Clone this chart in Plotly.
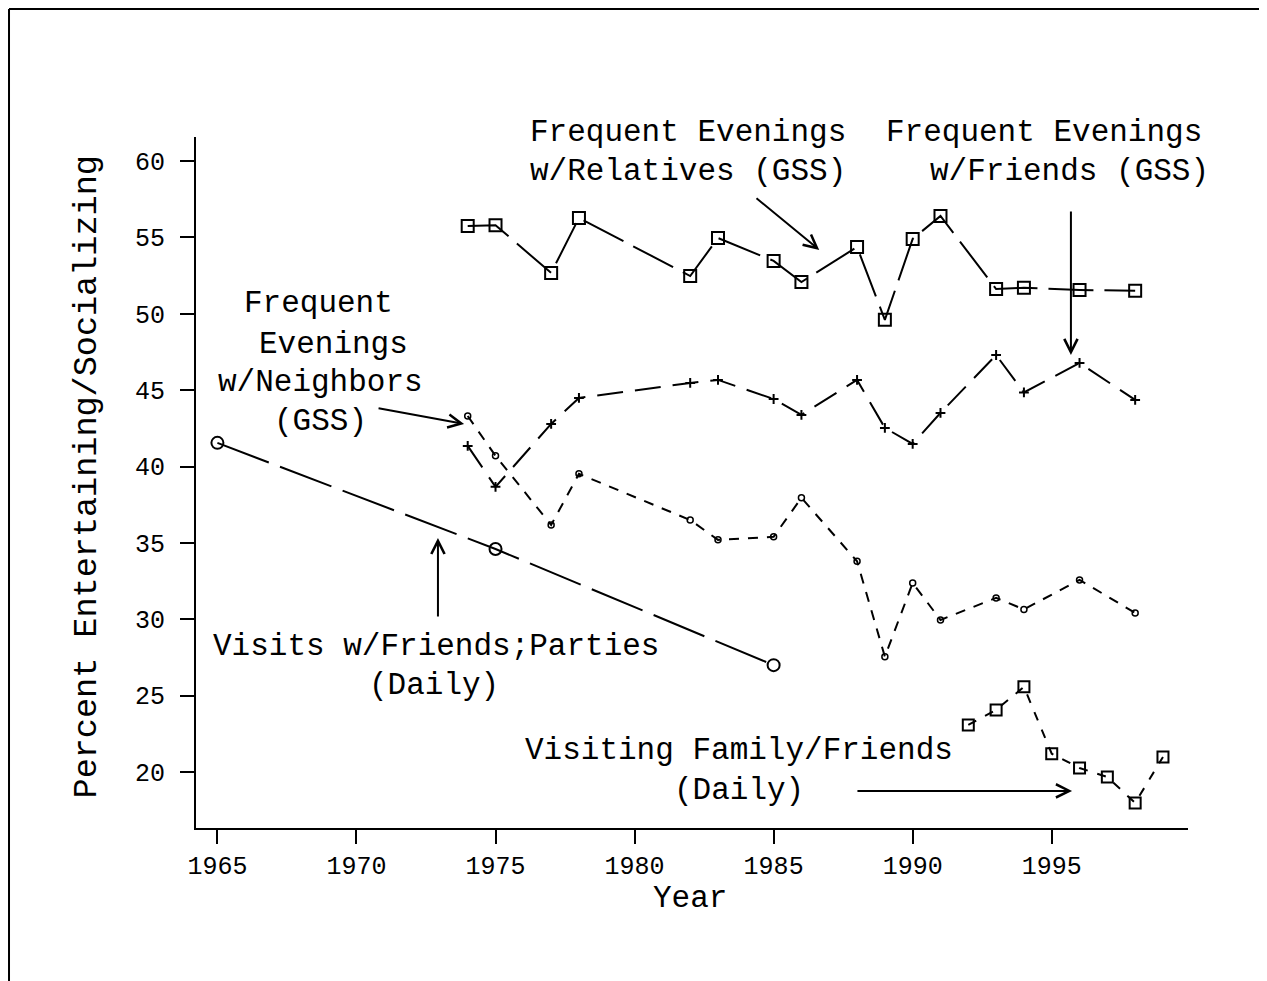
import plotly.graph_objects as go

# ---------------- data ----------------
rel_years = [1974, 1975, 1977, 1978, 1982, 1983, 1985, 1986, 1988, 1989, 1990, 1991, 1993, 1994, 1996, 1998]
rel_vals = [55.75, 55.8, 52.67, 56.27, 52.47, 54.96, 53.46, 52.08, 54.37, 49.6, 54.9, 56.4, 51.62, 51.7, 51.56, 51.5]

fr_years = [1974, 1975, 1977, 1978, 1982, 1983, 1985, 1986, 1988, 1989, 1990, 1991, 1993, 1994, 1996, 1998]
fr_vals = [41.35, 38.67, 42.79, 44.49, 45.47, 45.67, 44.42, 43.38, 45.67, 42.53, 41.48, 43.51, 47.3, 44.85, 46.78, 44.36]

nb_years = [1974, 1975, 1977, 1978, 1982, 1983, 1985, 1986, 1988, 1989, 1990, 1991, 1993, 1994, 1996, 1998]
nb_vals = [43.31, 40.7, 36.18, 39.52, 36.5, 35.2, 35.4, 37.95, 33.8, 27.55, 32.38, 29.96, 31.4, 30.65, 32.58, 30.42]

vis_years = [1965, 1975, 1985]
vis_vals = [41.55, 34.6, 27.0]

fam_years = [1992, 1993, 1994, 1995, 1996, 1997, 1998, 1999]
fam_vals = [23.09, 24.07, 25.58, 21.2, 20.27, 19.68, 17.98, 20.99]

x_ticks = [1965, 1970, 1975, 1980, 1985, 1990, 1995]
y_ticks = [20, 25, 30, 35, 40, 45, 50, 55, 60]

FONT = "Liberation Mono"
BLACK = "black"
TXT = 31

fig = go.Figure()

def add_series(xs, ys, dash, symbol, msize, mlw):
    fig.add_trace(go.Scatter(
        x=xs, y=ys, mode="lines+markers",
        line=dict(color=BLACK, width=2, dash=dash),
        marker=dict(symbol=symbol, size=msize, color=BLACK,
                    line=dict(color=BLACK, width=mlw)),
        showlegend=False, cliponaxis=False,
    ))

add_series(rel_years, rel_vals, "45px,11px", "square-open", 12, 2)
add_series(fr_years, fr_vals, "26px,12px", "cross-thin-open", 7, 2)
add_series(nb_years, nb_vals, "10px,9px", "circle-open", 6, 1.5)
add_series(vis_years, vis_vals, "55px,12px", "circle-open", 12, 2)
add_series(fam_years, fam_vals, "9px,10px", "square-open", 11, 2)

# ---------------- text labels ----------------
annotations = []
# labels above the plot area (x in data units, y in paper units)
top_labels = [
    ("Frequent Evenings", 1981.92, 1.0058),
    ("w/Relatives (GSS)", 1981.92, 0.9494),
    ("Frequent Evenings", 1994.71, 1.0058),
    ("w/Friends (GSS)", 1995.65, 0.9494),
]
for t, x, y in top_labels:
    annotations.append(dict(text=t, x=x, y=y, xref="x", yref="paper", showarrow=False,
                            xanchor="center", yanchor="middle",
                            font=dict(family=FONT, size=TXT, color=BLACK)))

labels = [
    ("Frequent", 1968.65, 50.64),
    ("Evenings", 1969.19, 48.02),
    ("w/Neighbors", 1968.72, 45.47),
    ("(GSS)", 1968.69, 42.92),
    ("Visits w/Friends;Parties", 1972.86, 28.19),
    ("(Daily)", 1972.79, 25.64),
    ("Visiting Family/Friends", 1983.76, 21.39),
    ("(Daily)", 1983.76, 18.77),
]
for t, x, y in labels:
    annotations.append(dict(text=t, x=x, y=y, xref="x", yref="y", showarrow=False,
                            xanchor="center", yanchor="middle",
                            font=dict(family=FONT, size=TXT, color=BLACK)))

arrows = [
    # (head_x, head_y, tail_x, tail_y)
    (1986.64, 54.18, 1984.33, 57.64),
    (1995.69, 47.30, 1995.69, 56.79),
    (1973.87, 42.79, 1970.74, 43.84),
    (1972.93, 35.33, 1972.93, 30.09),
    (1995.73, 18.77, 1987.96, 18.77),
]
for hx, hy, tx, ty in arrows:
    annotations.append(dict(text="", x=hx, y=hy, ax=tx, ay=ty, xref="x", yref="y",
                            axref="x", ayref="y", showarrow=True, arrowhead=5,
                            arrowsize=1.3, arrowwidth=2, arrowcolor=BLACK, standoff=0))

# axis titles
annotations.append(dict(text="Percent Entertaining/Socializing", xref="paper", yref="paper",
                        x=-0.1089, y=0.5087, textangle=-90, showarrow=False,
                        xanchor="center", yanchor="middle",
                        font=dict(family=FONT, size=33.5, color=BLACK)))
annotations.append(dict(text="Year", xref="paper", yref="paper",
                        x=0.498, y=-0.1025, showarrow=False,
                        xanchor="center", yanchor="middle",
                        font=dict(family=FONT, size=31, color=BLACK)))

# outer frame (top and left edges of the figure)
shapes = [
    dict(type="line", xref="paper", yref="paper", x0=-0.1885, y0=1.1852, x1=1.1, y1=1.1852,
         line=dict(color=BLACK, width=2)),
    dict(type="line", xref="paper", yref="paper", x0=-0.1885, y0=1.1852, x1=-0.1885, y1=-0.24,
         line=dict(color=BLACK, width=2)),
]

fig.update_layout(
    width=1267, height=981,
    margin=dict(l=188, r=87, t=129, b=161),
    paper_bgcolor="white", plot_bgcolor="white",
    annotations=annotations, shapes=shapes,
    xaxis=dict(range=[1964.23, 1999.9], tickvals=x_ticks, ticktext=[str(v) for v in x_ticks],
               showline=True, linecolor=BLACK, linewidth=2, showgrid=False, zeroline=False,
               ticks="outside", ticklen=14, tickwidth=2, tickcolor=BLACK,
               tickfont=dict(family=FONT, size=25, color=BLACK)),
    yaxis=dict(range=[16.34, 61.57], tickvals=y_ticks, ticktext=[str(v) for v in y_ticks],
               showline=True, linecolor=BLACK, linewidth=2, showgrid=False, zeroline=False,
               ticks="outside", ticklen=14, tickwidth=2, tickcolor=BLACK,
               ticklabelstandoff=10,
               tickfont=dict(family=FONT, size=25, color=BLACK)),
)

fig.write_html("out.html")
